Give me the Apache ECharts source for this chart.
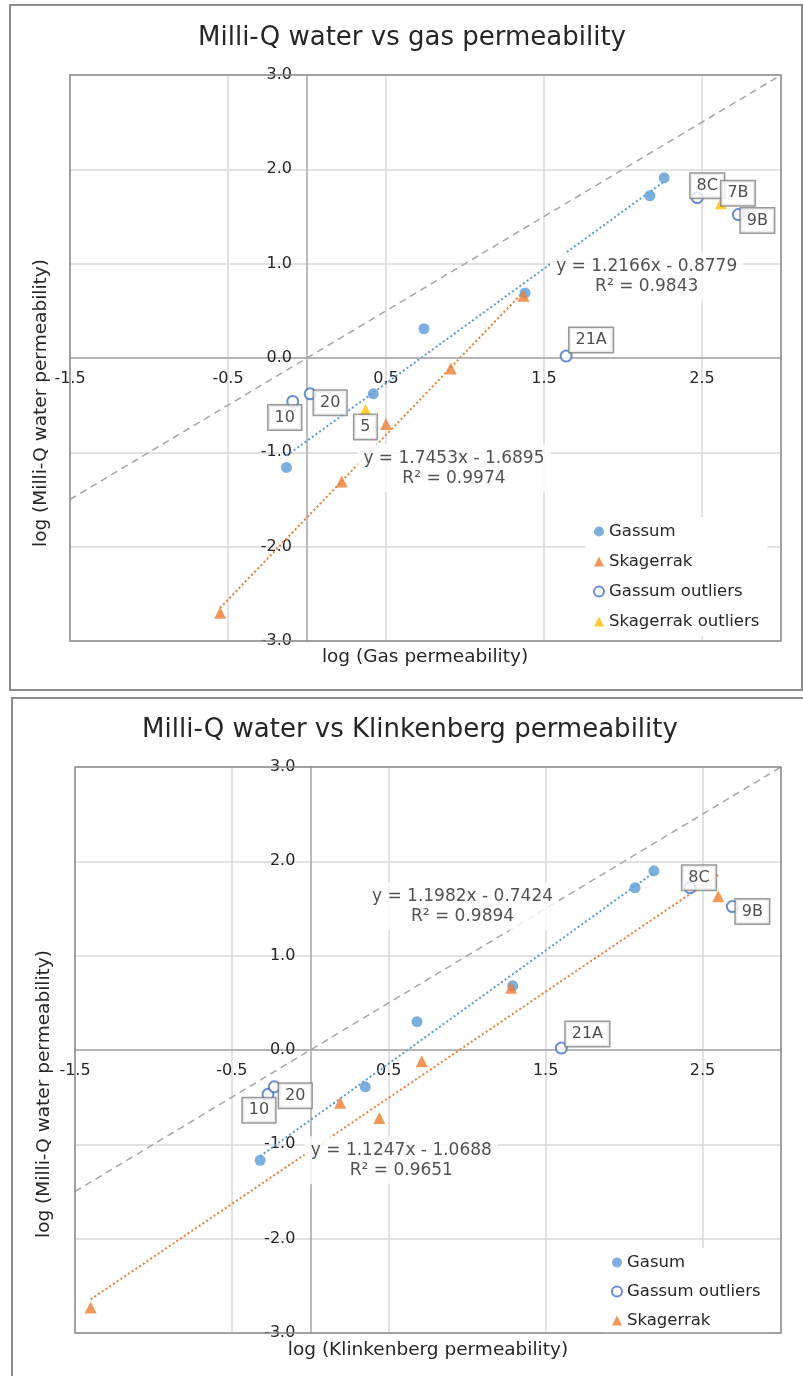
<!DOCTYPE html>
<html><head><meta charset="utf-8">
<script src="https://cdn.jsdelivr.net/npm/echarts@6/dist/echarts.min.js"></script>
<style>html,body{margin:0;padding:0;background:#fff}#c{width:803px;height:1376px}</style>
</head><body><div id="c"></div>
<script>
// ---------- texts ----------
const gasTitle = 'Milli-Q water vs gas permeability';
const klTitle = 'Milli-Q water vs Klinkenberg permeability';
const gasXTitle = 'log (Gas permeability)';
const klXTitle = 'log (Klinkenberg permeability)';
const yTitle = 'log (Milli-Q water permeability)';
const gasLegend = ['Gassum', 'Skagerrak', 'Gassum outliers', 'Skagerrak outliers'];
const klLegend = ['Gasum', 'Gassum outliers', 'Skagerrak'];

// ---------- tick values ----------
const xTickValues = [-1.5, -0.5, 0.5, 1.5, 2.5];
const yTickValues = [-3, -2, -1, 0, 1, 2, 3];

// ---------- chart 1 : gas permeability ----------
const gasGassum = [[-0.13, -1.16], [0.42, -0.38], [0.74, 0.31], [1.38, 0.69], [2.17, 1.72], [2.26, 1.91]];
const gasGassumOutliers = [[-0.09, -0.46], [0.02, -0.38], [1.64, 0.02], [2.47, 1.70], [2.73, 1.52]];
const gasGassumOutlierNames = ['10', '20', '21A', '8C', '9B'];
const gasSkagerrak = [[-0.55, -2.70], [0.22, -1.31], [0.50, -0.70], [0.91, -0.11], [1.37, 0.66]];
const gasSkagerrakOutliers = [[0.37, -0.55], [2.62, 1.64]];
const gasSkagerrakOutlierNames = ['5', '7B'];
const gasGassumFit = [1.2166, -0.8779, '0.9843'];
const gasSkagerrakFit = [1.7453, -1.6895, '0.9974'];

// ---------- chart 2 : Klinkenberg permeability ----------
const klGasum = [[-0.32, -1.17], [0.35, -0.39], [0.68, 0.30], [1.29, 0.68], [2.07, 1.72], [2.19, 1.90]];
const klGassumOutliers = [[-0.27, -0.47], [-0.23, -0.39], [1.60, 0.02], [2.42, 1.72], [2.69, 1.52]];
const klGassumOutlierNames = ['10', '20', '21A', '8C', '9B'];
const klSkagerrak = [[-1.40, -2.73], [0.19, -0.56], [0.44, -0.72], [0.71, -0.12], [1.28, 0.66], [2.60, 1.63]];
const klGasumFit = [1.1982, -0.7424, '0.9894'];
const klSkagerrakFit = [1.1247, -1.0688, '0.9651'];

// 1:1 reference line
const oneToOne = [[-1.5, -1.5], [3, 3]];

// ---------- layout (not data) ----------
const FONT = 'DejaVu Sans';
const TXT = '#262626';
const BLUE = '#5B9BD5', ORANGE = '#ED7D31', YELLOW = '#FFC000', OUTL = '#4472C4', GREY = '#A5A5A5';
const X_MIN = -1.5, X_MAX = 3, Y_MIN = -3, Y_MAX = 3;
const grids = [
  {left: 70, top: 75, width: 711, height: 566},
  {left: 75, top: 767, width: 706, height: 566}
];
const labelOffsets = [
  {'10': [-8, 16], '20': [20, 9], '21A': [25, -16], '8C': [10, -12], '9B': [19, 6], '5': [0, 17], '7B': [17, -10]},
  {'10': [-9, 16], '20': [21, 9], '21A': [26, -14], '8C': [9, -10], '9B': [20, 5]}
];
const fitLabelAt = [
  [[2.15, 0.86], [0.93, -1.17]],
  [[0.97, 1.52], [0.58, -1.17]]
];

function fitLine(fit, pts) {
  const xs = pts.map(p => p[0]);
  const a = Math.min(...xs), b = Math.max(...xs);
  return [[a, fit[0] * a + fit[1]], [b, fit[0] * b + fit[1]]];
}
function fitText(fit) {
  return 'y = ' + fit[0].toFixed(4) + 'x - ' + (-fit[1]).toFixed(4) + '\nR\u00b2 = ' + fit[2];
}
function boxed(names, pts, gi) {
  return pts.map((p, i) => ({
    value: p, name: names[i],
    label: {offset: labelOffsets[gi][names[i]]}
  }));
}
const boxLabel = {
  show: true, position: 'inside', formatter: '{b}', fontFamily: FONT, fontSize: 16, color: '#222',
  backgroundColor: '#fff', borderColor: '#7f7f7f', borderWidth: 1.5, padding: [4, 6]
};
function scatter(name, gi, data, symbol, color, extra) {
  return Object.assign({
    type: 'scatter', name, xAxisIndex: gi, yAxisIndex: gi, data, symbol, symbolSize: symbol === 'triangle' ? 12 : 11,
    itemStyle: symbol === 'emptyCircle' ? {color: color, borderWidth: 1.5} : {color},
    z: 3
  }, extra || {});
}
function line(gi, data, color, type, width) {
  return {type: 'line', xAxisIndex: gi, yAxisIndex: gi, data, showSymbol: false, symbol: 'none', silent: true,
    lineStyle: {color, type, width, cap: 'butt'}, z: 2};
}
function fitLabel(gi, at, fit) {
  return {type: 'scatter', xAxisIndex: gi, yAxisIndex: gi, data: [at], symbolSize: 1, silent: true, z: 4,
    itemStyle: {color: 'rgba(0,0,0,0)'},
    label: {show: true, position: 'inside', formatter: fitText(fit), fontFamily: FONT, fontSize: 17, lineHeight: 20,
      color: TXT, align: 'center', backgroundColor: '#fff', padding: [4, 6]}};
}
function xAxis(gi) {
  // axis drawn through y = 0, like the reference
  const off = -((0 - Y_MIN) / (Y_MAX - Y_MIN)) * grids[gi].height;
  return {gridIndex: gi, type: 'value', min: X_MIN, max: X_MAX, interval: 1, position: 'bottom', offset: off,
    axisLine: {onZero: false, lineStyle: {color: '#a6a6a6', width: 1.5}}, axisTick: {show: false},
    splitLine: {show: true, lineStyle: {color: '#d9d9d9', width: 1.5}},
    axisLabel: {fontFamily: FONT, fontSize: 16, color: TXT, margin: 13,
      formatter: v => xTickValues.some(t => Math.abs(t - v) < 1e-6) ? v.toFixed(1) : ''}};
}
function yAxis(gi) {
  // axis drawn through x = 0, like the reference
  const off = -((0 - X_MIN) / (X_MAX - X_MIN)) * grids[gi].width;
  return {gridIndex: gi, type: 'value', min: Y_MIN, max: Y_MAX, interval: 1, position: 'left', offset: off,
    axisLine: {onZero: false, lineStyle: {color: '#a6a6a6', width: 1.5}}, axisTick: {show: false},
    splitLine: {show: true, lineStyle: {color: '#d9d9d9', width: 1.5}},
    axisLabel: {fontFamily: FONT, fontSize: 16, color: TXT, margin: 15,
      formatter: v => yTickValues.some(t => Math.abs(t - v) < 1e-6) ? v.toFixed(1) : ''}};
}
function text(str, x, y, size, rot) {
  return {type: 'text', x, y, rotation: rot || 0, silent: true, z: 10,
    style: {text: str, font: size + 'px "' + FONT + '"', fill: TXT, align: 'center', verticalAlign: 'middle'}};
}

const series = [
  // chart 1
  line(0, oneToOne, GREY, [7, 5], 1.5),
  line(0, fitLine(gasSkagerrakFit, gasSkagerrak), ORANGE, [2, 2.5], 2),
  line(0, fitLine(gasGassumFit, gasGassum), BLUE, [2, 2.5], 2),
  scatter('Gassum', 0, gasGassum, 'circle', BLUE),
  scatter('Skagerrak', 0, gasSkagerrak, 'triangle', ORANGE),
  scatter('Gassum outliers', 0, boxed(gasGassumOutlierNames, gasGassumOutliers, 0), 'emptyCircle', OUTL, {label: boxLabel}),
  scatter('Skagerrak outliers', 0, boxed(gasSkagerrakOutlierNames, gasSkagerrakOutliers, 0), 'triangle', YELLOW, {label: boxLabel}),
  fitLabel(0, fitLabelAt[0][0], gasGassumFit),
  fitLabel(0, fitLabelAt[0][1], gasSkagerrakFit),
  // chart 2
  line(1, oneToOne, GREY, [7, 5], 1.5),
  line(1, fitLine(klSkagerrakFit, klSkagerrak), ORANGE, [2, 2.5], 2),
  line(1, fitLine(klGasumFit, klGasum), BLUE, [2, 2.5], 2),
  scatter('Gasum', 1, klGasum, 'circle', BLUE),
  scatter('Gassum outliers', 1, boxed(klGassumOutlierNames, klGassumOutliers, 1), 'emptyCircle', OUTL, {label: boxLabel}),
  scatter('Skagerrak', 1, klSkagerrak, 'triangle', ORANGE),
  fitLabel(1, fitLabelAt[1][0], klGasumFit),
  fitLabel(1, fitLabelAt[1][1], klSkagerrakFit)
];

const legendBase = {orient: 'vertical', padding: [6, 8], itemWidth: 10, itemHeight: 10, backgroundColor: '#fff',
  textStyle: {fontFamily: FONT, fontSize: 16.5, color: TXT}, selectedMode: false, z: 5};

const option = {
  animation: false,
  backgroundColor: '#fff',
  grid: grids.map(g => Object.assign({show: true, borderColor: '#8c8c8c', borderWidth: 1.5, z: 6,
    backgroundColor: 'transparent'}, g)),
  xAxis: [xAxis(0), xAxis(1)],
  yAxis: [yAxis(0), yAxis(1)],
  legend: [
    Object.assign({}, legendBase, {data: gasLegend, left: 585, top: 517, itemGap: 13}),
    Object.assign({}, legendBase, {data: klLegend, left: 603, top: 1248, itemGap: 12})
  ],
  graphic: [
    {type: 'rect', shape: {x: 10, y: 5, width: 792, height: 685}, silent: true, z: -10,
      style: {fill: 'none', stroke: '#8c8c8c', lineWidth: 2}},
    {type: 'rect', shape: {x: 12, y: 698, width: 792, height: 690}, silent: true, z: -10,
      style: {fill: 'none', stroke: '#8c8c8c', lineWidth: 2}},
    text(gasTitle, 412, 38, 26),
    text(klTitle, 410, 730, 26),
    text(yTitle, 41, 403, 18.5, Math.PI / 2),
    text(yTitle, 44, 1094, 18.5, Math.PI / 2),
    text(gasXTitle, 425, 657, 18.5),
    text(klXTitle, 428, 1350, 18.5)
  ],
  series
};
const chart = echarts.init(document.getElementById('c'), null, {renderer: 'canvas'});
chart.setOption(option);
</script></body></html>
